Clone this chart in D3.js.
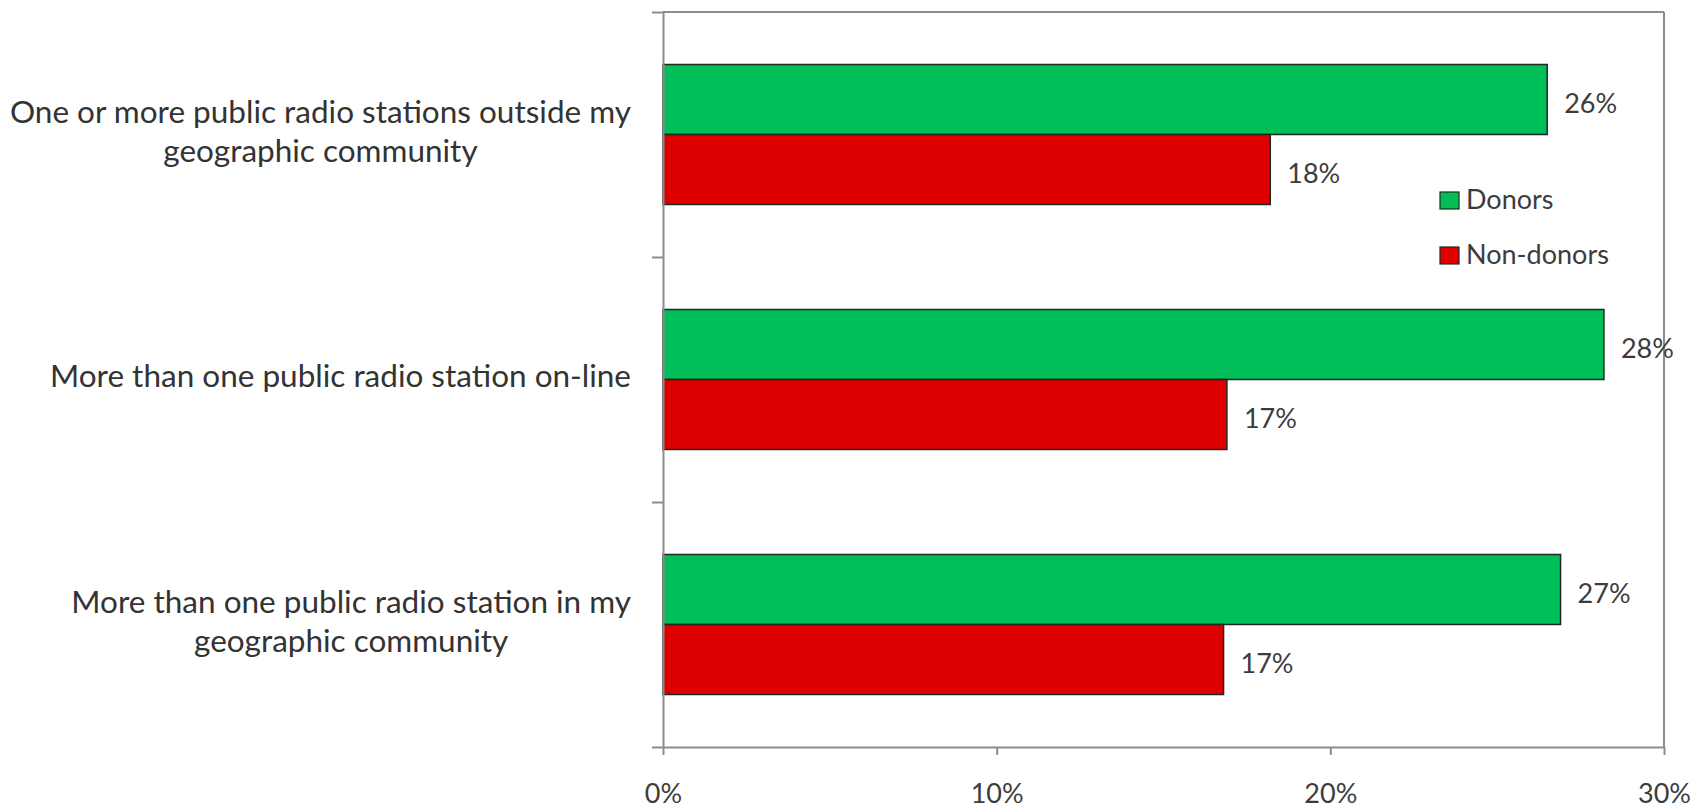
<!DOCTYPE html>
<html>
<head>
<meta charset="utf-8">
<script src="https://d3js.org/d3.v7.min.js"></script>
<style>
    body { margin: 0; background: #fff; }
    svg text { font-family: Lato, "Open Sans", sans-serif; fill: #3c3c3c; }
    .axis path, .axis line { stroke: #8c8c8c; stroke-width: 2; }
    .axis text { font-size: 27px; }
</style>
</head>
<body>
<svg id="chart" width="1701" height="808"></svg>
<script>
    // category labels, split into the lines shown on the chart
    var categories = [
        ["One or more public radio stations outside my", "geographic community"],
        ["More than one public radio station on-line"],
        ["More than one public radio station in my", "geographic community"]
    ]
    var seriesNames = ["Donors", "Non-donors"]
    var donors = [0.265, 0.282, 0.269]
    var nonDonors = [0.182, 0.169, 0.168]
    var valueLabels = [["26%", "18%"], ["28%", "17%"], ["27%", "17%"]]
    var xTicks = [0, 0.1, 0.2, 0.3]
    var colors = ["#00BF58", "#DE0000"]

    var svg = d3.select("#chart")
    var plotLeft = 663, plotRight = 1664, plotTop = 12, plotBottom = 747

    var x = d3.scaleLinear().domain([0, 0.3]).range([plotLeft, plotRight])
    var y = d3.scaleBand().domain(d3.range(categories.length)).range([plotTop, plotBottom]).padding(0)
    var inner = d3.scaleBand().domain(seriesNames).range([0, y.bandwidth()])
        .paddingInner(0).paddingOuter(0.75)
    var yEdges = d3.scaleLinear().domain([0, categories.length]).range([plotTop, plotBottom])

    // right and top frame
    svg.append("line").attr("x1", plotRight).attr("x2", plotRight).attr("y1", plotTop).attr("y2", plotBottom)
        .attr("stroke", "#8c8c8c").attr("stroke-width", 2)
    svg.append("line").attr("x1", plotLeft).attr("x2", plotRight).attr("y1", plotTop).attr("y2", plotTop)
        .attr("stroke", "#8c8c8c").attr("stroke-width", 2)

    var rows = categories.map((c, i) => ({ i: i, values: [donors[i], nonDonors[i]] }))

    var groups = svg.selectAll("g.row")
        .data(rows)
        .enter().append("g")
        .attr("class", "row")
        .attr("transform", d => "translate(0," + y(d.i) + ")")

    groups.selectAll("rect")
        .data(d => d.values.map((v, j) => ({ v: v, j: j, i: d.i })))
        .enter().append("rect")
        .attr("x", x(0))
        .attr("y", d => inner(seriesNames[d.j]))
        .attr("width", d => x(d.v) - x(0))
        .attr("height", inner.bandwidth())
        .attr("fill", d => colors[d.j])
        .attr("stroke", "#1e2a1e")
        .attr("stroke-width", 1.5)

    groups.selectAll("text.val")
        .data(d => d.values.map((v, j) => ({ v: v, j: j, i: d.i })))
        .enter().append("text")
        .attr("class", "val")
        .attr("x", d => x(d.v) + 17)
        .attr("y", d => inner(seriesNames[d.j]) + inner.bandwidth() / 2 + 7)
        .attr("dominant-baseline", "middle")
        .style("font-size", "27px")
        .text(d => valueLabels[d.i][d.j])

    // category labels: lines centred within a block that ends at the axis
    categories.forEach((lines, i) => {
        var g = svg.append("g")
        var cy = y(i) + y.bandwidth() / 2
        var lh = 39
        var t = g.selectAll("text").data(lines).enter().append("text")
            .attr("y", (d, k) => cy + (k - (lines.length - 1) / 2) * lh)
            .attr("dominant-baseline", "middle")
            .attr("text-anchor", "middle")
            .style("font-size", "31.5px")
            .style("fill", "#333")
            .text(d => d)
        var w = d3.max(t.nodes(), n => n.getComputedTextLength())
        t.attr("x", 631 - w / 2)
    })

    // axes
    svg.append("g").attr("class", "axis")
        .attr("transform", "translate(0," + plotBottom + ")")
        .call(d3.axisBottom(x).tickValues(xTicks).tickSize(8).tickSizeOuter(0).tickPadding(29)
            .tickFormat(d3.format(".0%")))

    svg.append("g").attr("class", "axis")
        .attr("transform", "translate(" + plotLeft + ",0)")
        .call(d3.axisLeft(yEdges).tickValues(d3.range(categories.length + 1)).tickSize(11)
            .tickSizeOuter(0).tickFormat(""))

    // legend
    var legend = svg.append("g").attr("transform", "translate(1440,192)")
    var items = legend.selectAll("g").data(seriesNames).enter().append("g")
        .attr("transform", (d, i) => "translate(0," + i * 55 + ")")
    items.append("rect").attr("width", 19).attr("height", 17)
        .attr("fill", (d, i) => colors[i]).attr("stroke", "#1e2a1e").attr("stroke-width", 1.2)
    items.append("text").attr("x", 26).attr("y", 10)
        .attr("dominant-baseline", "middle")
        .style("font-size", "27px")
        .text(d => d)
</script>
</body>
</html>
